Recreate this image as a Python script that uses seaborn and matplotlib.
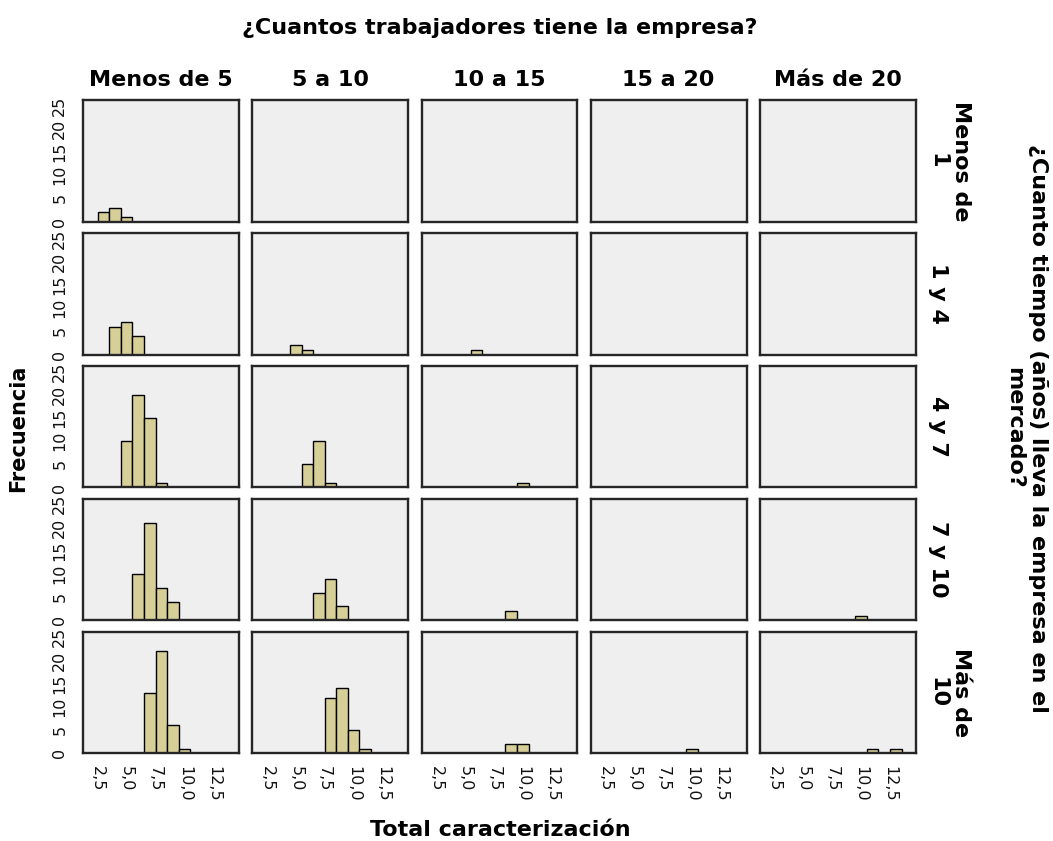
import numpy as np
import pandas as pd
import matplotlib
matplotlib.use("Agg")
import matplotlib.pyplot as plt
import seaborn as sns

# Facet categories
trabajadores = ["Menos de 5", "5 a 10", "10 a 15", "15 a 20", "Más de 20"]
tiempo = ["Menos de\n1", "1 y 4", "4 y 7", "7 y 10", "Más de\n10"]

# Frequency of each total score, per company size, for each time-in-market group
frec_menos_1 = {"Menos de 5": {3: 2, 4: 3, 5: 1}}
frec_1_4 = {"Menos de 5": {4: 6, 5: 7, 6: 4},
            "5 a 10": {5: 2, 6: 1},
            "10 a 15": {6: 1}}
frec_4_7 = {"Menos de 5": {5: 10, 6: 20, 7: 15, 8: 1},
            "5 a 10": {6: 5, 7: 10, 8: 1},
            "10 a 15": {10: 1}}
frec_7_10 = {"Menos de 5": {6: 10, 7: 21, 8: 7, 9: 4},
             "5 a 10": {7: 6, 8: 9, 9: 3},
             "10 a 15": {9: 2},
             "Más de 20": {10: 1}}
frec_mas_10 = {"Menos de 5": {7: 13, 8: 22, 9: 6, 10: 1},
               "5 a 10": {8: 12, 9: 14, 10: 5, 11: 1},
               "10 a 15": {9: 2, 10: 2},
               "15 a 20": {10: 1},
               "Más de 20": {11: 1, 13: 1}}

x_ticks = [2.5, 5.0, 7.5, 10.0, 12.5]
x_tick_labels = ["2,5", "5,0", "7,5", "10,0", "12,5"]
y_ticks = [0, 5, 10, 15, 20, 25]
y_tick_labels = ["0", "5", "10", "15", "20", "25"]

# Long table: one record per company
registros = []
for t, frec in zip(tiempo, [frec_menos_1, frec_1_4, frec_4_7, frec_7_10, frec_mas_10]):
    for trab, conteo in frec.items():
        for valor, n in conteo.items():
            registros += [{"tiempo": t, "trabajadores": trab, "total": valor}] * n
df = pd.DataFrame(registros)

sns.set_style("white")
plt.rcParams["font.family"] = ["DejaVu Sans"]

g = sns.FacetGrid(df, row="tiempo", col="trabajadores",
                  row_order=tiempo, col_order=trabajadores,
                  sharex=True, sharey=True, despine=False,
                  height=1.6, aspect=1.25)
edges = np.arange(0.5, 15.0, 1.0)
g.map_dataframe(sns.histplot, x="total", bins=edges, color="#D6CF97",
                edgecolor="black", linewidth=1.0, alpha=1.0)
g.set_axis_labels("", "")

fig = g.figure
fig.set_size_inches(10.53, 8.41)
fig.subplots_adjust(left=83.3 / 1053, right=915.7 / 1053,
                    top=1 - 100 / 841, bottom=1 - 753.3 / 841,
                    wspace=0.0857, hspace=0.093)

nrows, ncols = g.axes.shape
for i in range(nrows):
    for j in range(ncols):
        ax = g.axes[i, j]
        ax.set_title("")
        ax.set_facecolor("#EFEFEF")
        ax.set_xlim(1.25, 14.72)
        ax.set_ylim(0, 26.2)
        for s in ax.spines.values():
            s.set_color("#262626")
            s.set_linewidth(1.7)
        ax.set_xticks(x_ticks, x_tick_labels)
        ax.set_yticks(y_ticks, y_tick_labels)
        ax.tick_params(axis="x", length=7.5 if i == nrows - 1 else 0, width=1.2,
                       color="#1e1e1e", labelrotation=-90, labelsize=11.5,
                       labelcolor="#111111",
                       labelbottom=(i == nrows - 1), pad=2)
        ax.tick_params(axis="y", length=7.5 if j == 0 else 0, width=1.2,
                       color="#1e1e1e", labelrotation=90, labelsize=11.5,
                       labelcolor="#111111",
                       labelleft=(j == 0), pad=4)
        for lbl in ax.get_yticklabels():
            lbl.set_va("center")
        for lbl in ax.get_xticklabels():
            lbl.set_ha("center")
            lbl.set_va("top")

W, H = 1053, 841
bold = dict(fontweight="bold", fontsize=16, color="black")

fig.text(500 / W, 1 - 28 / H, "¿Cuantos trabajadores tiene la empresa?",
         ha="center", va="center", **bold)
for j, nombre in enumerate(trabajadores):
    pos = g.axes[0, j].get_position()
    fig.text((pos.x0 + pos.x1) / 2, 1 - 80 / H, nombre,
             ha="center", va="center", **bold)
for i, nombre in enumerate(tiempo):
    pos = g.axes[i, 0].get_position()
    fig.text(928 / W, (pos.y0 + pos.y1) / 2, nombre, rotation=-90,
             ha="left", va="center", multialignment="center", **bold)
fig.text(1026 / W, 1 - 428 / H,
         "¿Cuanto tiempo (años) lleva la empresa en el\nmercado?",
         rotation=-90, ha="center", va="center", multialignment="center", **bold)
fig.text(18 / W, 1 - 428 / H, "Frecuencia", rotation=90,
         ha="center", va="center", fontweight="bold", fontsize=15, color="black")
fig.text(500 / W, 1 - 830 / H, "Total caracterización",
         ha="center", va="center", **bold)

fig.savefig("out.png", dpi=100, facecolor="white")
